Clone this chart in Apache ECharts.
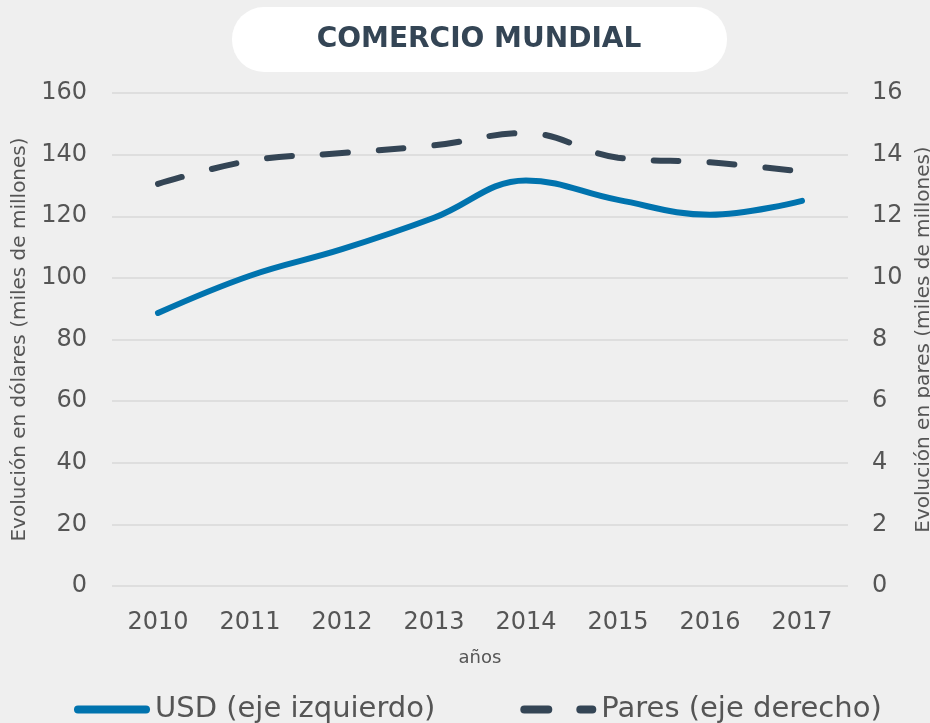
<!DOCTYPE html>
<html>
<head>
<meta charset="utf-8">
<script src="https://cdn.jsdelivr.net/npm/echarts@6/dist/echarts.min.js"></script>
<style>
  html, body { margin: 0; padding: 0; background: #efefef; }
  #chart { width: 930px; height: 723px; }
</style>
</head>
<body>
<div id="chart"></div>
<script>
const years = ["2010", "2011", "2012", "2013", "2014", "2015", "2016", "2017"];
const usdValues = [88.6, 100.7, 109.3, 119.5, 131.6, 125.3, 120.5, 125.0];
const paresValues = [13.05, 13.8, 14.05, 14.3, 14.7, 13.9, 13.75, 13.45];
const leftTicks = [0, 160, 20];
const rightTicks = [0, 16, 2];

const font = "'DejaVu Sans', sans-serif";
const grey = "#555555";

// legend icons: full round bar / dash + short dash
const usdIcon = "path://M4,0 L72,0 A4,4 0 0 1 72,8 L4,8 A4,4 0 0 1 4,0 Z";
const paresIcon = "path://M4,0 L28,0 A4,4 0 0 1 28,8 L4,8 A4,4 0 0 1 4,0 Z M60,0 L72,0 A4,4 0 0 1 72,8 L60,8 A4,4 0 0 1 60,0 Z";

let myChart = echarts.init(document.getElementById("chart"));
myChart.setOption({
  backgroundColor: "#efefef",
  textStyle: { fontFamily: font },
  graphic: [
    {
      type: "rect",
      shape: { x: 232, y: 7, width: 495, height: 65, r: 32 },
      style: { fill: "#ffffff" },
      z: 0
    },
    {
      type: "text",
      x: 479,
      y: 40,
      style: {
        text: "COMERCIO MUNDIAL",
        fill: "#344555",
        font: "bold 28px " + font,
        align: "center",
        verticalAlign: "middle"
      },
      z: 1
    }
  ],
  legend: {
    top: 690,
    left: 69,
    itemWidth: 76,
    itemHeight: 8,
    itemGap: 85,
    textStyle: { fontSize: 29, color: grey, fontFamily: font },
    data: [
      { name: "USD (eje izquierdo)", icon: usdIcon },
      { name: "Pares (eje derecho)", icon: paresIcon }
    ]
  },
  grid: {
    left: 112,
    right: 82,
    top: 93,
    bottom: 137,
    outerBoundsMode: "none",
    containLabel: false
  },
  xAxis: {
    type: "category",
    data: years,
    name: "años",
    nameLocation: "middle",
    nameGap: 63,
    nameTextStyle: { fontSize: 18, color: grey },
    axisLine: { show: false },
    axisTick: { show: false },
    axisLabel: { fontSize: 24, color: grey, margin: 25 }
  },
  yAxis: [
    {
      type: "value",
      min: leftTicks[0],
      max: leftTicks[1],
      interval: leftTicks[2],
      name: "Evolución en dólares (miles de millones)",
      nameLocation: "middle",
      nameGap: 80,
      nameTextStyle: { fontSize: 20, color: grey },
      axisLabel: { fontSize: 24, color: grey, margin: 25 },
      splitLine: { lineStyle: { color: "#d9d9d9", width: 1.5 } }
    },
    {
      type: "value",
      min: rightTicks[0],
      max: rightTicks[1],
      interval: rightTicks[2],
      name: "Evolución en pares (miles de millones)",
      nameLocation: "middle",
      nameGap: 62,
      nameRotate: 90,
      nameTextStyle: { fontSize: 20, color: grey },
      axisLabel: { fontSize: 24, color: grey, margin: 24 },
      splitLine: { show: false }
    }
  ],
  series: [
    {
      name: "USD (eje izquierdo)",
      type: "line",
      yAxisIndex: 0,
      data: usdValues,
      smooth: 0.4,
      showSymbol: false,
      symbol: "none",
      color: "#0073ae",
      lineStyle: { width: 6, cap: "round", color: "#0073ae" }
    },
    {
      name: "Pares (eje derecho)",
      type: "line",
      yAxisIndex: 1,
      data: paresValues,
      smooth: 0.4,
      showSymbol: false,
      symbol: "none",
      color: "#344555",
      lineStyle: { width: 6, cap: "round", type: [25, 31], color: "#344555" }
    }
  ]
});
</script>
</body>
</html>
